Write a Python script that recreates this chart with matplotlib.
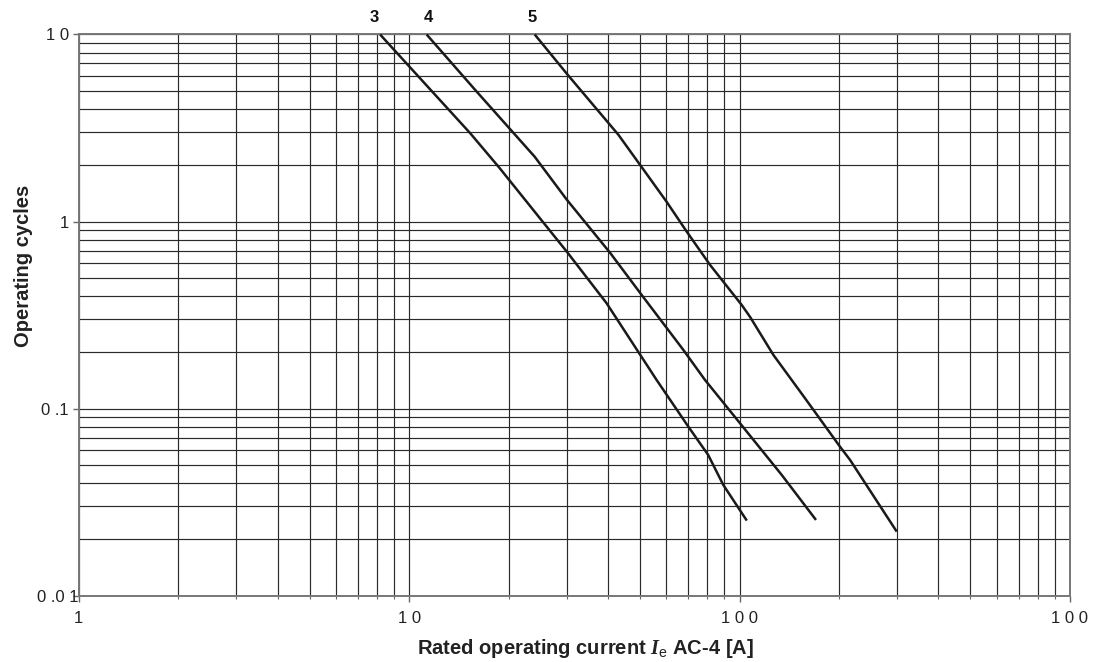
import matplotlib
matplotlib.use("Agg")
import matplotlib.pyplot as plt
import matplotlib.transforms as mtransforms
from matplotlib.ticker import LogLocator, NullFormatter, FixedLocator

plt.rcParams["font.family"] = ["Liberation Sans", "DejaVu Sans"]
plt.rcParams["mathtext.fontset"] = "custom"
plt.rcParams["mathtext.it"] = "Liberation Serif:italic:bold"
plt.rcParams["mathtext.rm"] = "Liberation Sans"

# curve data: rated current [A] vs operating cycles
curve3_x = [8.17, 15.3, 18.8, 24.9, 30.0, 39.6, 56.1, 70.0, 80.4, 89.3, 105.2]
curve3_y = [10.0, 2.97, 1.93, 1.04, 0.691, 0.366, 0.1424, 0.0801, 0.0565, 0.0391, 0.0252]

curve4_x = [11.3, 16.0, 24.0, 30.0, 40.6, 50.0, 67.6, 78.6, 100.3, 134.2, 170.4]
curve4_y = [10.0, 4.96, 2.22, 1.31, 0.680, 0.416, 0.206, 0.1424, 0.0836, 0.0442, 0.0254]

curve5_x = [24.0, 30.2, 43.0, 50.0, 60.2, 69.2, 81.4, 101.5, 107.6, 126.6, 157.8, 201.4, 216.0, 299.1]
curve5_y = [10.0, 6.09, 2.91, 2.01, 1.274, 0.884, 0.587, 0.3585, 0.3094, 0.1937, 0.1137, 0.0626, 0.0532, 0.0220]

curve_names = ["3", "4", "5"]
label_dx = [-4, 1, -2]  # horizontal nudge of curve labels, points

x_ticks = [1, 10, 100, 1000]
x_ticklabels = ["1", "1 0", "1 0 0", "1 0 0"]
y_ticks = [0.01, 0.1, 1, 10]
y_ticklabels = ["0 .0 1", "0 .1", "1", "1 0"]

fig = plt.figure(figsize=(10.94, 6.62), dpi=100)
ax = fig.add_axes([0.0719, 0.1002, 0.9061, 0.8477])

ax.set_xscale("log")
ax.set_yscale("log")
ax.set_xlim(1, 1000)
ax.set_ylim(0.01, 10)

grid_kw = dict(color="#2a2a2a", linewidth=0.85)
ax.xaxis.set_minor_locator(LogLocator(base=10, subs=range(2, 10)))
ax.yaxis.set_minor_locator(LogLocator(base=10, subs=range(2, 10)))
ax.xaxis.set_minor_formatter(NullFormatter())
ax.yaxis.set_minor_formatter(NullFormatter())
ax.grid(True, which="both", **grid_kw)
ax.set_axisbelow(True)

ax.xaxis.set_major_locator(FixedLocator(x_ticks))
ax.yaxis.set_major_locator(FixedLocator(y_ticks))
ax.set_xticklabels(x_ticklabels)
ax.set_yticklabels(y_ticklabels)

ax.tick_params(which="major", length=4, width=1, color="#666666",
               labelsize=12, labelcolor="#222222", pad=3)
ax.tick_params(axis="x", which="major", pad=7)
ax.tick_params(axis="x", which="minor", length=2, width=0.8, color="#666666")
ax.tick_params(axis="y", which="minor", length=0)

# the 0.01 label sits closer to the axis
lbl = ax.get_yticklabels()[0]
lbl.set_transform(lbl.get_transform() +
                  mtransforms.ScaledTranslation(7 / 72, 0, fig.dpi_scale_trans))

for sp in ax.spines.values():
    sp.set_color("#777777")
    sp.set_linewidth(1.4)

curves = [(curve3_x, curve3_y), (curve4_x, curve4_y), (curve5_x, curve5_y)]
for (xs, ys), name, dx in zip(curves, curve_names, label_dx):
    ax.plot(xs, ys, color="#1a1a1a", linewidth=1.8, solid_capstyle="butt",
            clip_on=False, zorder=3)
    ax.annotate(name, xy=(xs[0], ys[0]), xytext=(dx, 7),
                textcoords="offset points", ha="center", va="bottom",
                fontsize=12, fontweight="bold", color="#111111")

label_font = dict(fontsize=14.5, fontweight="bold", color="#222222")
ax.set_xlabel(r"Rated operating current $\mathit{I}_{\mathrm{e}}$ AC-4 [A]", **label_font)
ax.set_ylabel("Operating cycles", **label_font)
ax.xaxis.set_label_coords(0.511, -0.073)
ax.yaxis.set_label_coords(-0.046, 0.5875)

fig.savefig("out.png", dpi=100)
